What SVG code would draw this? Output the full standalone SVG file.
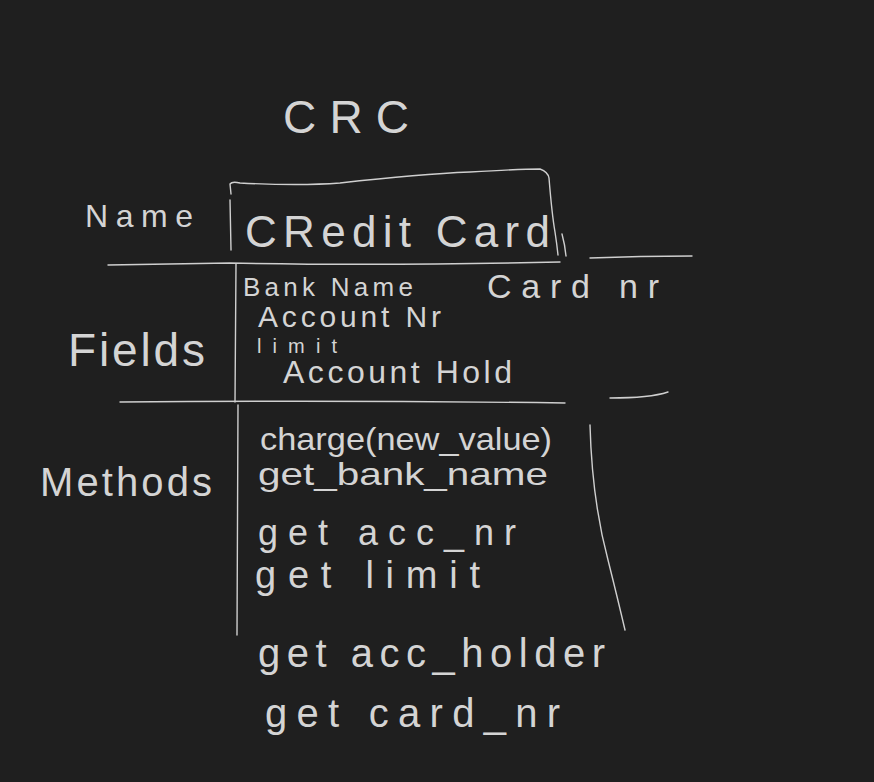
<svg xmlns="http://www.w3.org/2000/svg" width="874" height="782" viewBox="0 0 874 782">
<style>
.t{font-family:"Liberation Sans","DejaVu Sans",sans-serif;fill:#d4d4d4;font-weight:normal}
.ln{fill:none;stroke:#cfcfcf;stroke-width:1.4;stroke-linecap:round;stroke-linejoin:round}
</style>
<rect width="874" height="782" fill="#1f1f1f"/>
<g id="title"><text class="t" x="283" y="133" font-size="46" textLength="126" lengthAdjust="spacing">CRC</text></g>
<g id="label-name"><text class="t" x="85" y="227" font-size="32" textLength="108" lengthAdjust="spacing">Name</text></g>
<g id="label-fields"><text class="t" x="68" y="366" font-size="46" textLength="137" lengthAdjust="spacing">Fields</text></g>
<g id="label-methods"><text class="t" x="40" y="496" font-size="40" textLength="172" lengthAdjust="spacing">Methods</text></g>
<g id="class-name"><text class="t" x="245" y="247" font-size="44" textLength="305" lengthAdjust="spacing">CRedit Card</text></g>
<g id="fields">
<text class="t" x="243" y="296" font-size="26" textLength="170" lengthAdjust="spacing">Bank Name</text>
<text class="t" x="487" y="298" font-size="34" textLength="172" lengthAdjust="spacing">Card nr</text>
<text class="t" x="258" y="327" font-size="30" textLength="183" lengthAdjust="spacing">Account Nr</text>
<text class="t" x="257" y="353" font-size="20" textLength="80" lengthAdjust="spacing">limit</text>
<text class="t" x="283" y="383" font-size="32" textLength="229" lengthAdjust="spacing">Account Hold</text>
</g>
<g id="methods">
<text class="t" x="260" y="450" font-size="32" textLength="292" lengthAdjust="spacingAndGlyphs">charge(new_value)</text>
<text class="t" x="258" y="485" font-size="32" textLength="290" lengthAdjust="spacingAndGlyphs">get_bank_name</text>
<text class="t" x="258" y="545" font-size="36" textLength="258" lengthAdjust="spacing">get acc_nr</text>
<text class="t" x="255" y="588" font-size="38" textLength="225" lengthAdjust="spacing">get limit</text>
<text class="t" x="258" y="667" font-size="40" textLength="347" lengthAdjust="spacing">get acc_holder</text>
<text class="t" x="265" y="727" font-size="40" textLength="295" lengthAdjust="spacing">get card_nr</text>
</g>
<g id="connectors">
<path class="ln" d="M231,194 L230,184 Q232,181 240,183 Q300,186 340,183 Q420,174 470,172 Q520,169 540,169 Q548,172 549,178 Q552,215 555,232 Q557,245 558,255"/>
<path class="ln" d="M562,234 Q565,245 566,256"/>
<path class="ln" d="M230,200 L231,250"/>
<path class="ln" d="M108,265 Q170,264 230,263 Q380,266 560,262"/>
<path class="ln" d="M590,258 Q640,256 692,256"/>
<path class="ln" d="M236,264 L235,402 M238,405 Q237,520 237,635"/>
<path class="ln" d="M120,402 Q340,400 565,403"/>
<path class="ln" d="M610,398 Q650,398 668,392"/>
<path class="ln" d="M590,425 Q592,500 608,560 Q618,600 625,630"/>
</g>
</svg>
